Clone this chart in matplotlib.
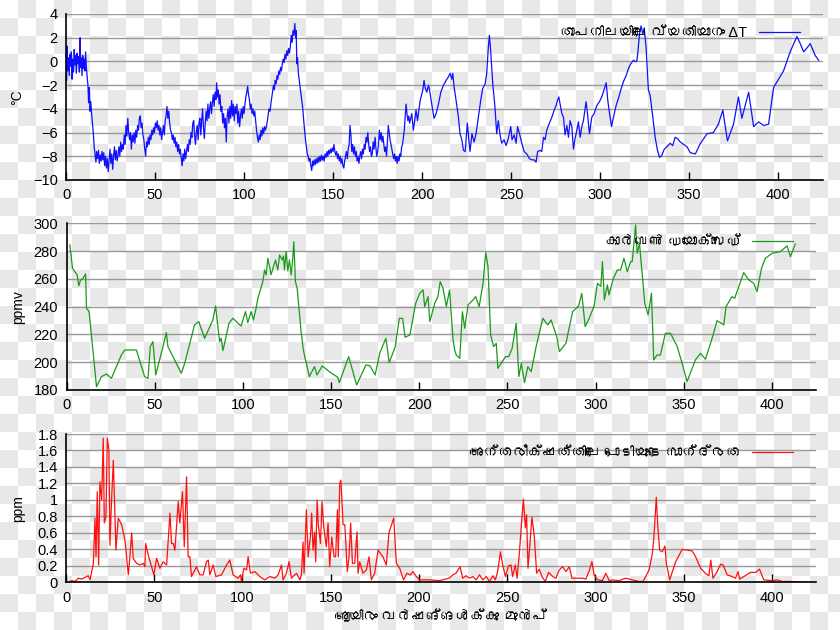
import numpy as np
import matplotlib
matplotlib.use("Agg")
import matplotlib.pyplot as plt
from matplotlib import font_manager
from matplotlib.ft2font import FT2Font

# temperature change (deg C), thousands of years ago
temp_age = [
    0, 0.3, 0.6, 1, 1.4, 1.8, 2.2, 2.6, 3, 3.4, 3.8, 4.2, 4.6, 5, 5.4, 5.8, 6.2, 6.6, 7, 7.5,
    7.9, 8.2, 8.6, 9, 9.4, 9.8, 10.2, 10.6, 11, 11.4, 11.8, 12.3, 12.7, 13.1, 13.5, 13.9, 14.3, 14.8, 15.3, 15.8,
    16.3, 16.8, 17.2, 17.7, 18.2, 18.7, 19.2, 19.7, 20.2, 20.7, 21.2, 21.7, 22.2, 22.7, 23.2, 23.7, 24.2, 24.7, 25.2, 25.7,
    26.2, 26.7, 27.2, 27.7, 28.2, 28.7, 29.2, 29.7, 30.2, 30.7, 31.2, 31.7, 32.2, 32.7, 33.2, 33.7, 34.2, 34.7, 35.2, 35.7,
    36.2, 36.7, 37.2, 37.7, 38.2, 38.7, 39.2, 39.7, 40.2, 40.7, 41.2, 41.7, 42.2, 42.7, 43.2, 43.7, 44.2, 44.7, 45.2, 45.7,
    46.2, 46.7, 47.2, 47.7, 48.2, 48.7, 49.2, 49.7, 50.2, 50.7, 51.2, 51.7, 52.2, 52.7, 53.2, 53.7, 54.2, 54.7, 55.2, 55.7,
    56.2, 56.7, 57.2, 57.7, 58.2, 58.7, 59.2, 59.7, 60.2, 60.7, 61.2, 61.7, 62.2, 62.7, 63.2, 63.7, 64.2, 64.7, 65.2, 65.7,
    66.2, 66.7, 67.2, 67.7, 68.2, 68.7, 69.2, 69.7, 70.2, 70.7, 71.2, 71.7, 72.2, 72.7, 73.2, 73.7, 74.2, 74.7, 75.2, 75.7,
    76.2, 76.7, 77.2, 77.7, 78.2, 78.7, 79.2, 79.7, 80.2, 80.7, 81.2, 81.7, 82.2, 82.7, 83.2, 83.7, 84.2, 84.6, 85.0, 85.5,
    86.0, 86.5, 87.0, 87.5, 88.0, 88.5, 89.0, 89.5, 90.0, 90.5, 91.0, 91.5, 92.0, 92.5, 93.0, 93.5, 94.0, 94.5, 95.0, 95.5,
    96.0, 96.5, 97.0, 97.5, 98.0, 98.5, 99.0, 99.5, 100.0, 100.5, 101.0, 101.5, 102.0, 102.5, 103.0, 103.5, 104.0, 104.5, 105.0, 105.5,
    106.0, 106.5, 107.0, 107.5, 108.0, 108.5, 109.0, 109.5, 110.0, 110.5, 111.0, 111.5, 112.0, 112.7, 113.3, 114.0, 114.6, 115.2, 115.8, 116.5,
    117.0, 117.5, 118.0, 118.5, 119.0, 119.5, 120.0, 120.5, 121.0, 121.5, 122.0, 122.5, 123.0, 123.5, 124.0, 124.5, 125.0, 125.5, 126.0, 126.5,
    127.0, 127.5, 128.0, 128.5, 129.0, 129.3, 129.6, 130.0, 130.5, 131.0, 131.5, 132.0, 132.5, 133.0, 133.5, 134.0, 134.5, 135.0, 135.5, 136.0,
    136.5, 137.0, 137.5, 138.0, 138.5, 139.0, 139.5, 140.0, 140.5, 141.0, 141.5, 142.0, 142.5, 143.0, 143.5, 144.0, 144.5, 145.0, 145.5, 146.0,
    146.5, 147.0, 147.5, 148.0, 148.5, 149.0, 149.5, 150.0, 150.5, 151.0, 151.5, 152.0, 152.5, 153.0, 153.5, 154.0, 154.5, 155.0, 155.5, 156.0,
    156.5, 157.0, 157.5, 158.0, 158.5, 159.0, 159.5, 160.0, 160.5, 161.0, 161.5, 162.0, 162.5, 163.0, 163.5, 164.0, 164.5, 165.0, 165.5, 166.0,
    166.5, 167.0, 167.5, 168.0, 168.5, 169.0, 169.5, 170.0, 170.5, 171.0, 171.5, 172.0, 172.5, 173.0, 173.6, 174.0, 174.5, 175.0, 175.5, 176.0,
    176.5, 177.0, 177.5, 178.0, 178.5, 179.0, 179.5, 180.0, 180.5, 181.0, 181.5, 182.0, 182.5, 183.0, 183.5, 184.0, 184.5, 185.0, 185.5, 186.0,
    186.5, 187.0, 187.6, 188.0, 188.5, 189.0, 189.5, 190.0, 190.5, 191.0, 191.5, 192.0, 192.5, 193.0,
    194.2, 195.1, 196.6, 197.4, 198.9, 200.4, 201.1, 201.7, 202.6, 203.6, 204.5, 205.4, 206.7, 207.9, 209.2, 210.5, 212, 213.5, 214.8, 215.7,
    216.7, 217.2, 218, 219.1, 220.4, 221.3, 222.3, 223.2, 224.2, 225.4, 226.2, 226.9, 228, 229.2, 230.3, 231.6, 232.9, 234, 235.4, 236.3,
    237.2, 237.8, 238.5, 239.7, 240.9, 241.9, 242.8, 243.8, 244.7, 246, 247.2, 248.4, 249.8, 250.5, 251.7, 252.8, 253.6, 254.7, 256, 257.3,
    258.8, 260.3, 261.6, 262.9, 264, 264.9, 266.3, 267.2, 268.2, 269.1, 270, 271.5, 272.9, 274.2, 275.3, 276, 276.8, 277.5, 278.5, 279.4,
    280.3, 281.3, 282.2, 283.1, 284.1, 285, 285.9, 286.9, 287.8, 288.8, 289.7, 290.6, 292.1, 292.9, 294, 295.3, 296.6, 298.2, 299.6, 300.9,
    302.2, 303.4, 304.3, 305.2, 306.4, 307.5, 309, 310.3, 311.6, 313.1, 314.6, 315.9, 317.2, 318.7, 319.7, 320.6, 321.2, 322.1, 323, 324,
    324.7, 325.8, 327.1, 328.1, 329.6, 330.9, 332.2, 333.4, 334.7, 336, 337.5, 339.3, 340.8, 342.1, 343.4,
    345, 348.8, 350.6, 353.5, 356, 360, 363.6, 366.4, 368.9, 371.5, 374.9, 377.7, 379.6, 383.4, 386.2, 389, 391.8, 394.6, 397.4, 400.2,
    403, 406.7, 410.5, 412.4, 414.3, 416.5, 418, 420.8, 422.7,
]
temp_val = [
    0.5, -1.6, 1.3, -0.8, 0.3, -1.2, 0.6, -0.4, 0.8, -1.5, 0.2, -0.9, 1.0, -0.3, 0.5, -1.0, 0.7, -0.2, 0.4, -0.9,
    2.0, -0.5, 0.3, -1.2, 0.5, -0.6, 0.2, -0.8, 0.8, -0.5, -1.2, -2.0, -3.5, -2.2, -4.2, -3.4, -4.3, -5.2, -6.0, -7.2,
    -7.8, -8.5, -7.6, -8.2, -7.5, -8.6, -7.9, -8.4, -7.6, -8.3, -7.7, -8.8, -8.0, -9.0, -8.2, -9.3, -8.4, -7.4, -8.6, -7.8,
    -9.1, -8.0, -7.2, -8.3, -7.5, -8.4, -7.9, -7.2, -8.0, -6.8, -7.6, -7.0, -7.4, -6.2, -7.0, -5.4, -6.3, -4.8, -6.0, -6.6,
    -6.0, -7.4, -6.2, -6.8, -6.0, -6.9, -5.8, -6.4, -5.4, -5.8, -4.8, -4.6, -5.6, -5.2, -6.2, -6.6, -7.4, -8.0, -6.8, -7.2,
    -6.4, -7.0, -6.2, -6.6, -5.8, -6.2, -5.6, -6.0, -5.2, -5.6, -5.0, -5.8, -5.4, -6.2, -5.6, -6.6, -6.0, -5.4, -6.2, -5.0,
    -4.6, -3.8, -4.8, -4.2, -5.2, -5.8, -6.0, -6.6, -6.2, -6.9, -6.4, -7.2, -6.8, -7.6, -7.0, -7.8, -7.4, -8.2, -8.8, -7.8,
    -8.4, -7.4, -8.2, -7.6, -7.0, -7.6, -6.6, -7.0, -6.0, -6.4, -5.2, -5.0, -6.2, -7.0, -6.0, -5.4, -6.6, -5.2, -4.8, -6.2,
    -5.0, -4.0, -5.6, -6.5, -5.2, -4.2, -5.0, -3.6, -4.8, -4.0, -3.4, -4.4, -3.5, -2.8, -3.8, -2.6, -3.2, -1.8, -3.0, -2.4,
    -3.6, -2.8, -4.2, -3.8, -5.2, -4.4, -5.6, -4.8, -6.8, -4.6, -4.0, -5.2, -3.8, -4.8, -3.3, -4.6, -3.6, -5.0, -3.8, -4.4,
    -3.6, -5.2, -4.2, -5.5, -4.6, -4.0, -4.8, -3.8, -4.4, -3.6, -3.0, -2.6, -2.1, -2.8, -3.2, -4.0, -3.6, -4.4, -4.0, -4.6,
    -4.2, -5.0, -5.8, -6.4, -6.8, -6.2, -6.6, -5.8, -6.3, -5.6, -6.1, -5.5, -5.8, -5.4, -4.8, -4.0, -4.2, -3.4, -2.8, -2.0,
    -2.4, -1.6, -1.9, -1.2, -1.5, -0.8, -1.1, -0.5, -0.8, -0.2, 0.2, -0.1, 0.6, 0.2, 0.9, 0.5, 1.1, 0.7, 1.3, 2.2,
    1.6, 2.6, 2.2, 3.2, 2.0, 2.6, -0.2, 0.3, -1.0, -1.6, -2.2, -2.8, -3.4, -4.0, -5.0, -5.8, -6.6, -7.2, -7.8, -8.0,
    -8.4, -8.2, -8.8, -9.2, -8.4, -8.8, -8.3, -8.7, -8.2, -8.6, -8.1, -8.5, -8.0, -8.4, -7.9, -8.3, -8.0, -8.4, -7.8, -8.1,
    -7.6, -8.0, -7.5, -7.8, -7.4, -7.7, -7.3, -7.6, -7.0, -7.6, -7.9, -7.6, -8.2, -7.8, -8.4, -8.0, -8.6, -8.2, -8.8, -9.0,
    -8.4, -8.0, -7.6, -8.2, -7.4, -7.0, -5.4, -6.2, -7.6, -7.0, -7.8, -7.2, -8.0, -7.6, -8.4, -8.0, -8.6, -8.0, -7.6, -8.2,
    -7.4, -7.8, -7.0, -7.4, -6.4, -6.8, -6.0, -7.0, -7.6, -7.2, -8.0, -7.8, -6.8, -7.4, -6.4, -7.2, -8.0, -7.6, -7.0, -5.8,
    -6.6, -6.0, -6.8, -6.3, -7.0, -7.6, -7.2, -8.0, -6.8, -5.4, -6.0, -6.6, -7.0, -7.4, -7.8, -8.2, -7.8, -8.4, -8.0, -8.6,
    -8.0, -8.4, -7.8, -8.0, -7.2, -7.0, -6.4, -5.8, -4.6, -3.6, -4.4, -5.0, -4.6, -5.2,
    -4.4, -5.8, -4.1, -5.0, -3.3, -2.4, -1.6, -2.2, -2.6, -2.0, -2.7, -3.6, -4.8, -4.4, -3.6, -2.6, -2.0, -1.6, -1.3, -1.0,
    -1.5, -1.0, -2.2, -3.3, -4.7, -6.1, -6.6, -7.5, -7.6, -5.2, -6.6, -7.6, -6.1, -6.8, -6.1, -4.7, -3.3, -2.3, -1.9, -1.0,
    1.2, 2.2, 0.9, -1.9, -3.8, -6.1, -5.0, -6.2, -6.9, -6.6, -7.1, -6.5, -5.5, -6.6, -6.2, -6.9, -5.5, -6.1, -6.9, -7.6,
    -7.8, -8.2, -8.3, -8.3, -8.5, -7.6, -7.5, -7.6, -6.4, -6.6, -5.8, -5.2, -4.7, -4.1, -3.7, -3.3, -3.0, -3.6, -4.4, -4.7,
    -6.2, -5.4, -6.4, -5.0, -5.5, -7.4, -6.5, -5.8, -5.1, -6.4, -5.5, -5.0, -3.4, -4.4, -6.1, -4.7, -4.4, -3.7, -3.4, -3.0,
    -2.4, -1.8, -3.3, -4.3, -5.5, -4.7, -3.7, -3.1, -2.4, -1.7, -1.2, -0.6, -0.2, 0.1, 0.0, 0.0, 0.8, 2.3, 3.0, 2.3,
    2.8, 1.2, -2.4, -2.9, -4.7, -6.4, -7.5, -8.1, -7.9, -7.4, -7.2, -6.9, -7.1, -6.4, -6.5,
    -6.8, -7.2, -7.7, -7.8, -7.0, -6.1, -6.0, -5.3, -4.1, -6.7, -5.3, -3.0, -4.8, -2.6, -5.5, -5.1, -5.4, -5.3, -2.2, -1.5,
    -0.8, 0.8, 2.1, 1.5, 0.8, 1.2, 1.5, 0.5, 0.1,
]

# carbon dioxide (ppmv)
co2_age = [
    1.9, 3.4, 6, 7, 7.9, 9.4, 10.8, 11.3, 12.8, 17, 19.8, 22.6, 25.5, 31.1, 33, 39.6, 44.3, 46.2, 47.5, 49,
    50.6, 54.7, 56.6, 57.5, 65.1, 67, 72.6, 75, 78.3, 83, 84.5, 86.8, 87.7, 88.7, 92.1, 94.3, 99, 101.5, 102.8, 104.7,
    106, 107.5, 108.5, 111.3, 112.3, 113.2, 114.2, 116, 118.5, 119.8, 120.8, 122.3, 123, 123.6, 124.5, 125.5, 126.4, 127.4, 128.3, 128.9,
    129.8, 130.8, 133, 134.3, 135.5, 136, 137.7, 140.6, 142, 145, 149, 153.8, 154.7, 160, 164.5, 169.8, 172, 175, 177.7, 181.1,
    183, 186.4, 188.7, 190.6, 192, 194.7, 198, 200.3, 202.2, 203.1, 205, 206, 208.8, 210.6, 211.9, 213.5, 215.4, 217.2, 219.2, 220.1,
    221, 223, 224.5, 225.8, 227.7, 230.5, 232, 234, 236.2, 237.7, 239, 240.5, 242.2, 243.7, 244.6, 246.5, 248.9, 250.8, 252.7, 255,
    256.5, 257.9, 259.7, 261.6, 263.5, 266.3, 270.1, 272.9, 274.8, 278, 279.5, 283.2, 287, 290.4, 292.2, 294.1, 296.4, 299.2, 301.1, 303,
    303.9, 305, 306.7, 307.6, 310.1, 312.4, 314.2, 316.1, 318, 319.9, 320.8, 322.7, 323.6, 324.9, 327.9, 329.8, 331.7, 333, 334.9, 336.8,
    339.6, 342.5, 346.3, 349.1, 351.9, 356.6, 359.5, 362.3, 366.1, 368.9, 372.7, 374, 377.4, 378.9, 384, 386.9, 389.7, 391.6, 394.1, 396.3,
    400.1, 404.8, 408.6, 410.5, 413.3,
]
co2_val = [
    284.4, 267.6, 262.8, 255, 259, 260.4, 263.5, 238.8, 236.4, 182.4, 189.6, 191.5, 188.4, 205.2, 208.8, 208.8, 189.6, 188.4, 211.2, 214.8,
    190.8, 211.2, 221.3, 211.2, 192, 199.2, 226.8, 229.2, 217.2, 230.4, 240.5, 214.8, 217.2, 208.3, 228, 231.6, 226, 236.4, 228.5, 236.4,
    230.4, 238.8, 246, 258, 266.4, 262.8, 274.8, 263, 273.6, 266.4, 277.2, 273.6, 276.5, 266.4, 279.6, 265.7, 273.6, 262.8, 274.8, 286.8,
    258, 253.2, 222, 208.8, 201.6, 199.2, 189.6, 196.8, 190.8, 197.3, 193.2, 189.1, 185.3, 204, 183.6, 198, 197.5, 190.8, 206.9, 217.2,
    199.7, 211.2, 231.6, 231.6, 217.9, 219.6, 242.4, 249.6, 252, 240, 247.2, 229.2, 242.4, 247.2, 258, 253.2, 240, 252, 216, 208.8,
    205.2, 202.8, 236.4, 224.4, 241.2, 244.8, 247.2, 240, 256.8, 278.9, 268.8, 219.6, 211.2, 213.6, 195.6, 199.2, 204, 204, 210, 228,
    189.6, 199.2, 185.3, 196.8, 193.2, 211.2, 231.6, 226.8, 230.4, 218.4, 207.6, 213.6, 236.4, 240.5, 249.6, 225.6, 231.6, 240.5, 256.8, 254.4,
    272.4, 244.8, 255.6, 248.4, 260.4, 266.4, 266.4, 274.8, 265.2, 272.4, 272.4, 298.8, 278.4, 285.6, 242.4, 234, 249.6, 201.6, 205.2, 205.2,
    220.8, 220.8, 211.2, 199.2, 186, 201.6, 206.4, 202.1, 217.2, 229.9, 226.8, 240, 247.2, 246, 264.5, 259.2, 256.8, 250.8, 267.6, 274.8,
    278.4, 279.6, 283.7, 276, 285.1,
]

# atmospheric dust (ppm)
dust_age = [
    1.3, 3.2, 5.1, 7, 8.9, 10.8, 12.6, 13.6, 15.5, 16.4, 17, 17.7, 18.5, 19.2, 20.2, 21.1, 21.7, 22.6, 23.4, 24.3,
    24.9, 25.8, 26.8, 28.3, 29.6, 31.5, 33.4, 35.3, 36.2, 37.2, 38.1, 40, 41.9, 43.8, 44.7, 45.1, 46.6, 48.5, 49.8, 51.3,
    53.2, 55.1, 57, 58.9, 59.8, 60.8, 61.7, 63.6, 64.5, 66, 67, 68.3, 69.2, 70.2, 71.1, 73, 74, 75.8, 77.7, 79.6,
    80.6, 81.5, 83.4, 84.9, 88.1, 91, 92.8, 94.7, 97.5, 98.9, 99.4, 100.8, 102.3, 103.2, 104.5, 107, 109.8, 112.6, 115.5, 118.3,
    120.2, 122.1, 123, 124.9, 126.4, 127.7, 130.6, 132.5, 133.4, 134.3, 134.9, 136.2, 137.2, 138.5, 139.2, 140, 140.9, 141.5, 142.3, 143,
    144.2, 145.1, 146, 147.5, 148.5, 149.4, 150.6, 151.9, 152.8, 153.8, 154.3, 155.1, 155.8, 157, 158, 159.4, 160.4, 161.3, 162.3, 163.6,
    164.9, 165.5, 166.4, 168.3, 170.2, 171.7, 173, 174.9, 176.8, 179.6, 181.5, 183, 185.7, 187.2, 189.1, 191.3, 193.2, 195.1, 196.6, 198.5,
    200.4, 206, 211.6, 217.2, 219.2, 221, 223.3, 224.8, 226.7, 228.6, 230.5, 232.4, 234.3, 236.2, 238.1, 240, 241.9, 243.3, 244.6, 246.2,
    247.5, 249, 250.8, 252.2, 253.1, 254.6, 255.6, 256.9, 258, 259.2, 260.3, 261, 261.8, 262.9, 264, 265.4, 266.7, 268.2, 269.7, 271.6,
    273.5, 275.8, 277.6, 279.5, 281.4, 283.3, 285.2, 286.7, 288.9, 292.7, 294.6, 296.5, 298, 299.3, 301.2, 304, 305.9, 307.8, 309.7, 313.4,
    317.2, 321, 324.8, 327, 330.4, 332.3, 333.2, 334.5, 335.3, 336.4, 337.9, 339.4, 340.2, 342.1, 345.5, 349.2, 354.9, 356.8, 359.6, 362.8,
    364.3, 365.4, 366.6, 369, 370.9, 372.4, 374.7, 377.5, 379.4, 380.9, 381.7, 384.1, 387.9, 390.7, 393, 395.4, 400.1, 403, 405.8, 411.5,
    420.9,
]
dust_val = [
    0.0, 0.02, 0.01, 0.05, 0.04, 0.06, 0.08, 0.03, 0.23, 0.78, 0.31, 1.1, 0.21, 1.22, 1.0, 1.75, 0.72, 0.8, 1.75, 1.61,
    0.45, 1.0, 1.48, 0.39, 0.78, 0.7, 0.51, 0.09, 0.31, 0.6, 0.29, 0.23, 0.21, 0.23, 0.19, 0.47, 0.33, 0.19, 0.09, 0.29,
    0.17, 0.25, 0.21, 0.84, 0.47, 0.47, 0.39, 0.98, 0.72, 1.1, 0.43, 1.28, 0.31, 0.31, 0.07, 0.15, 0.19, 0.09, 0.09, 0.25,
    0.27, 0.09, 0.21, 0.07, 0.09, 0.21, 0.27, 0.09, 0.05, 0.09, 0.01, 0.17, 0.15, 0.31, 0.11, 0.13, 0.07, 0.03, 0.07, 0.05,
    0.09, 0.21, 0.03, 0.11, 0.25, 0.05, 0.11, 0.03, 0.09, 0.49, 0.11, 0.88, 0.31, 0.55, 0.84, 0.39, 0.61, 0.25, 1.0, 0.7,
    0.47, 0.98, 0.68, 0.43, 0.72, 0.19, 0.55, 0.31, 0.31, 0.88, 0.31, 1.2, 1.24, 0.7, 0.7, 0.13, 0.31, 0.72, 0.23, 0.23,
    0.61, 0.11, 0.25, 0.11, 0.15, 0.31, 0.03, 0.11, 0.39, 0.31, 0.21, 0.6, 0.78, 0.23, 0.17, 0.03, 0.11, 0.09, 0.13, 0.07,
    0.03, 0.03, 0.02, 0.05, 0.09, 0.11, 0.19, 0.05, 0.08, 0.05, 0.07, 0.03, 0.09, 0.03, 0.07, 0.01, 0.08, 0.03, 0.13, 0.37,
    0.21, 0.07, 0.2, 0.21, 0.07, 0.21, 0.05, 0.35, 0.68, 1.01, 0.66, 0.82, 0.17, 0.47, 0.79, 0.55, 0.11, 0.16, 0.07, 0.01,
    0.12, 0.07, 0.05, 0.15, 0.19, 0.13, 0.19, 0.05, 0.05, 0.05, 0.04, 0.14, 0.25, 0.09, 0.03, 0.02, 0.11, 0.02, 0.03, 0.02,
    0.05, 0.03, 0.01, 0.01, 0.15, 0.35, 0.56, 1.03, 0.7, 0.39, 0.37, 0.44, 0.23, 0.03, 0.25, 0.4, 0.38, 0.31, 0.17, 0.1,
    0.08, 0.27, 0.05, 0.13, 0.22, 0.21, 0.09, 0.07, 0.05, 0.13, 0.04, 0.07, 0.12, 0.12, 0.16, 0.03, 0.02, 0.03, 0.01, 0.01,
    0.0,
]

temp_label = "താപനിലയിലെ വ്യതിയാനം ΔT"
co2_label = "കാർബൺ ഡയോക്സൈഡ്"
dust_label = "അന്തരീക്ഷത്തിലെ പൊടിയുടെ സാന്ദ്രത"
x_label = "ആയിരം വർഷങ്ങൾക്കു മുൻപ്"


def malayalam_fonts():
    """Names of installed fonts that carry Malayalam glyphs."""
    names = []
    for f in font_manager.fontManager.ttflist:
        try:
            if 0x0D2E in FT2Font(f.fname).get_charmap() and f.name not in names:
                names.append(f.name)
        except Exception:
            pass
    return names


# Latin/digits from Liberation Sans, Malayalam falls through to the next family
plt.rcParams["font.family"] = ["Liberation Sans"] + malayalam_fonts() + ["DejaVu Sans"]
plt.rcParams["font.size"] = 10

fig = plt.figure(figsize=(8.4, 6.3), dpi=100)

# checkerboard backdrop as in the reference picture
yy, xx = np.indices((630, 840))
checker = ((yy // 18 + xx // 18) % 2).astype(float)
bg = np.where(checker[..., None] == 1, 0.91, 1.0) * np.ones((1, 1, 3))
fig.figimage(bg, xo=0, yo=0, zorder=-10)
fig.patch.set_alpha(0)

# top panel is a touch wider than the two below it
ax1 = fig.add_axes([0.0786, 0.7143, 0.9008, 0.2635])
ax2 = fig.add_axes([0.0792, 0.3810, 0.8922, 0.2646])
ax3 = fig.add_axes([0.0786, 0.0757, 0.8928, 0.2354])

panels = [
    (ax1, temp_age, temp_val, "#1010ff", temp_label, "°C", (-10, 4), np.arange(-10, 5, 2)),
    (ax2, co2_age, co2_val, "#1a9a1a", co2_label, "ppmv", (180, 300), np.arange(180, 301, 20)),
    (ax3, dust_age, dust_val, "#ff1010", dust_label, "ppm", (0, 1.8), np.arange(0, 1.81, 0.2)),
]

for ax, x, y, color, label, unit, ylim, yticks in panels:
    ax.patch.set_alpha(0)
    ax.plot(x, y, color=color, lw=0.9, label=label)
    ax.set_xlim(0, 425)
    ax.set_ylim(*ylim)
    ax.set_yticks(yticks)
    ax.set_xticks(np.arange(0, 401, 50))
    ax.grid(axis="y", color="#999999", lw=1.0)
    ax.set_axisbelow(True)
    for side in ["top", "right"]:
        ax.spines[side].set_visible(False)
    ax.spines["left"].set_linewidth(1.2)
    ax.spines["bottom"].set_linewidth(1.2)
    ax.tick_params(axis="x", direction="in", length=6, width=1, pad=6, labelsize=10.5)
    ax.tick_params(axis="y", length=0, pad=6, labelsize=10.5)
    ax.set_ylabel(unit, fontsize=10)
    ax.yaxis.set_label_coords(-0.055, 0.5)
    ax.legend(loc="upper right", markerfirst=False, frameon=False, fontsize=10.5,
              handlelength=2.8, borderaxespad=0.4, bbox_to_anchor=(0.985, 1.0))

ax3.yaxis.set_major_formatter(plt.FuncFormatter(lambda v, p: f"{v:g}"))
ax3.set_xlabel(x_label, fontsize=10.5, labelpad=4)

fig.savefig("out.png", dpi=100)
